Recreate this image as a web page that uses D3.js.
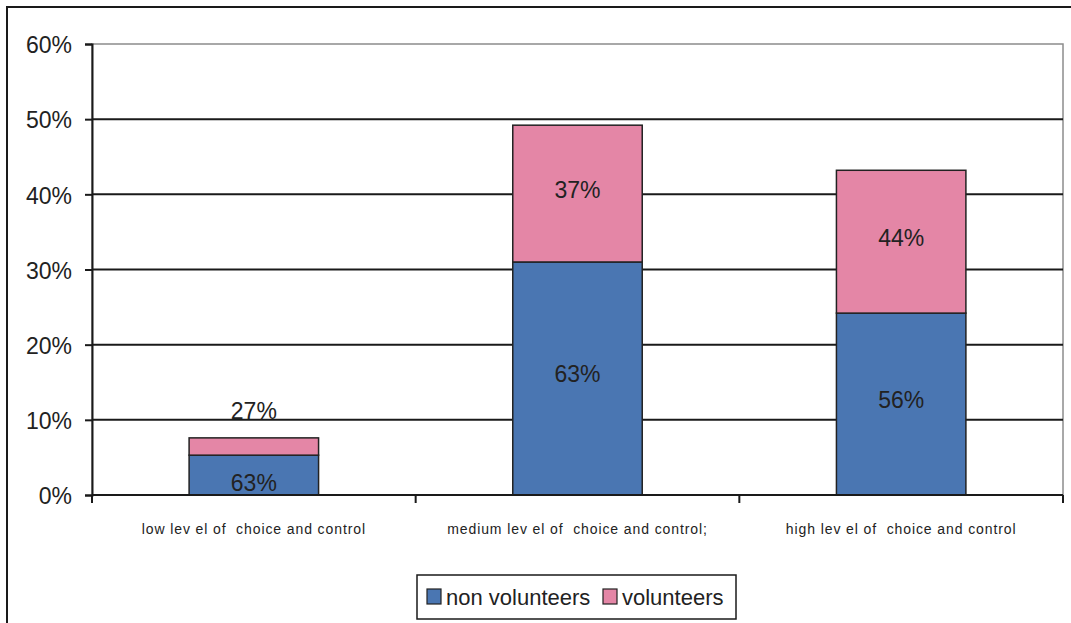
<!DOCTYPE html>
<html>
<head>
<meta charset="utf-8">
<script src="https://cdn.jsdelivr.net/npm/d3@7"></script>
<style>
  body { margin: 0; background: #fff; }
  svg { display: block; font-family: "Liberation Sans", Arial, sans-serif; }
</style>
</head>
<body>
<div id="chart"></div>
<script>
// categories and stacked values (share of total, in %)
const categories = ["low level of choice and control", "medium level of choice and control;", "high level of choice and control"];
const seriesNames = ["non volunteers", "volunteers"];
const nonVolunteers = [5.3, 31.0, 24.2];
const volunteers = [2.3, 18.2, 19.0];
const nonVolLabels = ["63%", "63%", "56%"];
const volLabels = ["27%", "37%", "44%"];
const yTicks = [0, 10, 20, 30, 40, 50, 60];

const colors = ["#4a76b2", "#e486a6"];

function drawChart() {
    const W = 1071, H = 623;
    let margin = {top: 44, right: 8, bottom: 128, left: 92};
    let width = 1063 - margin.left;
    let height = 495 - margin.top;

    let svg = d3.select("#chart").append("svg")
        .attr("width", W).attr("height", H);

    // outer chart border (runs off the bottom/right of the picture)
    svg.append("rect")
        .attr("x", 7).attr("y", 7)
        .attr("width", W + 10).attr("height", H + 10)
        .attr("fill", "none").attr("stroke", "#1a1a1a").attr("stroke-width", 2);

    let g = svg.append("g").attr("transform", "translate(" + margin.left + "," + margin.top + ")");

    let x = d3.scaleBand().domain(categories).range([0, width]).paddingInner(0).paddingOuter(0);
    let y = d3.scaleLinear().domain([0, 60]).range([height, 0]);

    // plot area border (gray)
    g.append("rect")
        .attr("x", 0).attr("y", 0).attr("width", width).attr("height", height)
        .attr("fill", "none").attr("stroke", "#8c8c8c").attr("stroke-width", 1.5);

    // gridlines
    g.append("g").selectAll("line")
        .data(yTicks.filter(d => d > 0 && d < 60))
        .join("line")
        .attr("x1", 0).attr("x2", width)
        .attr("y1", d => y(d)).attr("y2", d => y(d))
        .attr("stroke", "#1a1a1a").attr("stroke-width", 2);

    // Y axis
    let yAxis = g.append("g")
        .call(d3.axisLeft(y).tickValues(yTicks).tickFormat(d => d + "%").tickSize(7).tickPadding(13));
    yAxis.select(".domain").attr("stroke", "#1a1a1a").attr("stroke-width", 2);
    yAxis.selectAll(".tick line").attr("stroke", "#1a1a1a").attr("stroke-width", 2);
    yAxis.selectAll(".tick text").attr("font-size", 23).attr("fill", "#222")
        .attr("dy", "0.38em")
        .attr("font-family", "Liberation Sans, Arial, sans-serif");

    // stacked data
    let rows = categories.map((c, i) => ({cat: c, nonvol: nonVolunteers[i], vol: volunteers[i]}));
    let stack = d3.stack().keys(["nonvol", "vol"])(rows);
    let labelSets = [nonVolLabels, volLabels];

    let barW = x.bandwidth() * 0.4;
    let barX = d => x(d.data.cat) + (x.bandwidth() - barW) / 2;

    stack.forEach((layer, k) => {
        g.append("g").selectAll("rect")
            .data(layer)
            .join("rect")
            .attr("x", barX)
            .attr("y", d => y(d[1]))
            .attr("width", barW)
            .attr("height", d => y(d[0]) - y(d[1]))
            .attr("fill", colors[k])
            .attr("stroke", "#222").attr("stroke-width", 1.5);
    });

    // segment labels
    stack.forEach((layer, k) => {
        g.append("g").selectAll("text")
            .data(layer)
            .join("text")
            .attr("x", d => x(d.data.cat) + x.bandwidth() / 2)
            .attr("y", (d, i) => {
                let h = y(d[0]) - y(d[1]);
                if (h < 25 && k === 1) return y(d[1]) - 27;
                if (h < 45) return (y(d[0]) + y(d[1])) / 2 + 8;
                return (y(d[0]) + y(d[1])) / 2 - 4;
            })
            .attr("text-anchor", "middle")
            .attr("dominant-baseline", "central")
            .attr("font-size", 23)
            .attr("fill", "#222")
            .text((d, i) => labelSets[k][i]);
    });

    // X axis baseline with category boundary ticks
    g.append("line")
        .attr("x1", 0).attr("x2", width).attr("y1", height).attr("y2", height)
        .attr("stroke", "#1a1a1a").attr("stroke-width", 2);
    let bounds = [0].concat(categories.map(c => x(c) + x.bandwidth()));
    g.append("g").selectAll("line")
        .data(bounds)
        .join("line")
        .attr("x1", d => d).attr("x2", d => d)
        .attr("y1", height).attr("y2", height + 8)
        .attr("stroke", "#1a1a1a").attr("stroke-width", 2);

    g.append("g").selectAll("text")
        .data(categories)
        .join("text")
        .attr("x", d => x(d) + x.bandwidth() / 2)
        .attr("y", height + 34)
        .attr("text-anchor", "middle")
        .attr("dominant-baseline", "central")
        .attr("font-size", 14)
        .attr("letter-spacing", "0.9px")
        .attr("fill", "#222")
        .style("white-space", "pre")
        .text(d => d.replace("level", "lev el").replace("of ", "of  "));

    // legend
    let lg = svg.append("g").attr("transform", "translate(417,575)");
    lg.append("rect").attr("width", 319).attr("height", 44)
        .attr("fill", "#fff").attr("stroke", "#1a1a1a").attr("stroke-width", 1.5);
    let itemX = [10, 186];
    seriesNames.forEach((s, i) => {
        lg.append("rect")
            .attr("x", itemX[i]).attr("y", 14).attr("width", 14).attr("height", 15)
            .attr("fill", colors[i]).attr("stroke", "#222").attr("stroke-width", 1.2);
        lg.append("text")
            .attr("x", itemX[i] + 19).attr("y", 22)
            .attr("dominant-baseline", "central")
            .attr("font-size", 22).attr("fill", "#222")
            .text(s);
    });
}
drawChart();
</script>
</body>
</html>
